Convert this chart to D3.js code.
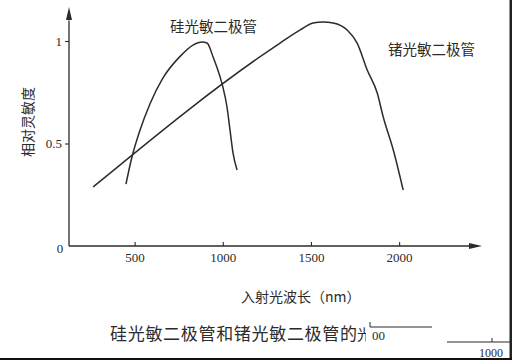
<!DOCTYPE html>
<html>
<head>
<meta charset="utf-8">
<script src="https://cdn.jsdelivr.net/npm/d3@7"></script>
<style>
  html, body { margin: 0; padding: 0; background: #fff; }
  svg { display: block; }
</style>
</head>
<body>
<svg id="chart" width="512" height="360"></svg>
<script>
// ---- data ----
const siWavelength = [451, 485, 531, 587, 661, 758, 831, 883, 911, 945, 985, 1002, 1024, 1041, 1058, 1081];
const siResponse   = [0.302, 0.434, 0.566, 0.693, 0.820, 0.925, 0.980, 0.995, 0.990, 0.922, 0.824, 0.771, 0.678, 0.566, 0.454, 0.371];
const geWavelength = [265, 1325, 1439, 1512, 1569, 1626, 1705, 1762, 1819, 1876, 1910, 1967, 2023];
const geResponse   = [0.288, 0.990, 1.054, 1.088, 1.093, 1.088, 1.054, 0.990, 0.859, 0.746, 0.629, 0.468, 0.273];
const xTickValues  = [500, 1000, 1500, 2000];
const yTickValues  = [0.5, 1];
const yTickLabels  = ["0.5", "1"];
const siLabel = "硅光敏二极管";
const geLabel = "锗光敏二极管";
const yTitle  = "相对灵敏度";
const xTitle  = "入射光波长（nm）";
const caption = "硅光敏二极管和锗光敏二极管的";

const ink = "#2b2b2b";
const serif = "'Liberation Serif', 'DejaVu Serif', serif";
const cjk = "'Noto Sans CJK SC', sans-serif";

const svg = d3.select("#chart");
svg.append("rect").attr("width", 512).attr("height", 360).attr("fill", "#fff");

const x = d3.scaleLinear().domain([128, 2470]).range([69, 482]);
const y = d3.scaleLinear().domain([0, 1]).range([246, 41]);

// axes lines with arrows
svg.append("line").attr("x1", x(128)).attr("y1", y(0)).attr("x2", x(2420)).attr("y2", y(0))
  .attr("stroke", ink).attr("stroke-width", 1.3);
svg.append("line").attr("x1", x(128)).attr("y1", y(0)).attr("x2", x(128)).attr("y2", y(1.1))
  .attr("stroke", ink).attr("stroke-width", 1.3);
const xe = x(2470), ye = y(0);
svg.append("path").attr("d", `M${xe},${ye} L${xe-13},${ye-3} L${xe-13},${ye+3} Z`).attr("fill", ink);
const yx = x(128), yt = y(1.166);
svg.append("path").attr("d", `M${yx},${yt} L${yx-3},${yt+13} L${yx+3},${yt+13} Z`).attr("fill", ink);

// x axis ticks
const xAxis = d3.axisBottom(x).tickValues(xTickValues).tickSizeInner(-4).tickSizeOuter(0).tickPadding(7)
  .tickFormat(d3.format("d"));
const gx = svg.append("g").attr("transform", `translate(0,${y(0)})`).call(xAxis);
gx.select(".domain").remove();
gx.selectAll("line").attr("stroke", ink).attr("stroke-width", 1.1);
gx.selectAll("text").attr("font-family", serif).attr("font-size", 13).attr("fill", ink);

// y axis ticks
const yAxis = d3.axisLeft(y).tickValues(yTickValues).tickSizeInner(4).tickSizeOuter(0).tickPadding(3)
  .tickFormat((d, i) => yTickLabels[i]);
const gy = svg.append("g").attr("transform", `translate(${x(128)},0)`).call(yAxis);
gy.select(".domain").remove();
gy.selectAll("line").attr("stroke", ink).attr("stroke-width", 1.1);
gy.selectAll("text").attr("font-family", serif).attr("font-size", 13).attr("fill", ink);

svg.append("text").attr("x", 60).attr("y", 252.5).attr("text-anchor", "middle")
  .attr("font-family", serif).attr("font-size", 13).attr("fill", ink).text("0");

// curves
const line = d3.line().x(d => x(d[0])).y(d => y(d[1])).curve(d3.curveMonotoneX);
svg.append("path").datum(d3.zip(siWavelength, siResponse)).attr("d", line)
  .attr("fill", "none").attr("stroke", ink).attr("stroke-width", 1.5);
svg.append("path").datum(d3.zip(geWavelength, geResponse)).attr("d", line)
  .attr("fill", "none").attr("stroke", ink).attr("stroke-width", 1.5);

// curve labels
svg.append("text").attr("x", 170).attr("y", 32).attr("font-family", cjk).attr("font-size", 14.5)
  .attr("fill", ink).text(siLabel);
svg.append("text").attr("x", 388).attr("y", 55).attr("font-family", cjk).attr("font-size", 14.5)
  .attr("fill", ink).text(geLabel);

// axis titles
svg.append("text").attr("transform", "translate(33,122) rotate(-90)").attr("text-anchor", "middle")
  .attr("font-family", cjk).attr("font-size", 14).attr("fill", ink).text(yTitle);
svg.append("text").attr("x", 241).attr("y", 302).attr("font-family", cjk).attr("font-size", 14)
  .attr("fill", ink).text(xTitle);

// caption
svg.append("text").attr("x", 110).attr("y", 340).attr("font-family", cjk).attr("font-size", 17)
  .attr("textLength", 247).attr("lengthAdjust", "spacing").attr("fill", ink).text(caption);
svg.append("clipPath").attr("id", "cut").append("rect").attr("x", 355).attr("y", 315).attr("width", 11).attr("height", 35);
svg.append("text").attr("x", 357).attr("y", 340).attr("font-family", cjk).attr("font-size", 14.5)
  .attr("fill", ink).attr("clip-path", "url(#cut)").text("光");

// fragments of the next figure showing through the scan
svg.append("line").attr("x1", 370).attr("y1", 327).attr("x2", 432).attr("y2", 327).attr("stroke", ink).attr("stroke-width", 1);
svg.append("line").attr("x1", 370).attr("y1", 322).attr("x2", 370).attr("y2", 327).attr("stroke", ink).attr("stroke-width", 1);
svg.append("text").attr("x", 372).attr("y", 340).attr("font-family", serif).attr("font-size", 13).attr("fill", ink).text("00");
svg.append("line").attr("x1", 447).attr("y1", 342).attr("x2", 512).attr("y2", 342).attr("stroke", ink).attr("stroke-width", 1);
svg.append("line").attr("x1", 492).attr("y1", 338).attr("x2", 492).attr("y2", 342).attr("stroke", ink).attr("stroke-width", 1);
svg.append("text").attr("x", 491).attr("y", 357).attr("text-anchor", "middle").attr("font-family", serif)
  .attr("font-size", 12).attr("fill", ink).text("1000");

// page edges
svg.append("rect").attr("x", 509.5).attr("y", 0).attr("width", 2.5).attr("height", 360).attr("fill", "#222");
svg.append("rect").attr("x", 0).attr("y", 358).attr("width", 512).attr("height", 2).attr("fill", "#111");
</script>
</body>
</html>
